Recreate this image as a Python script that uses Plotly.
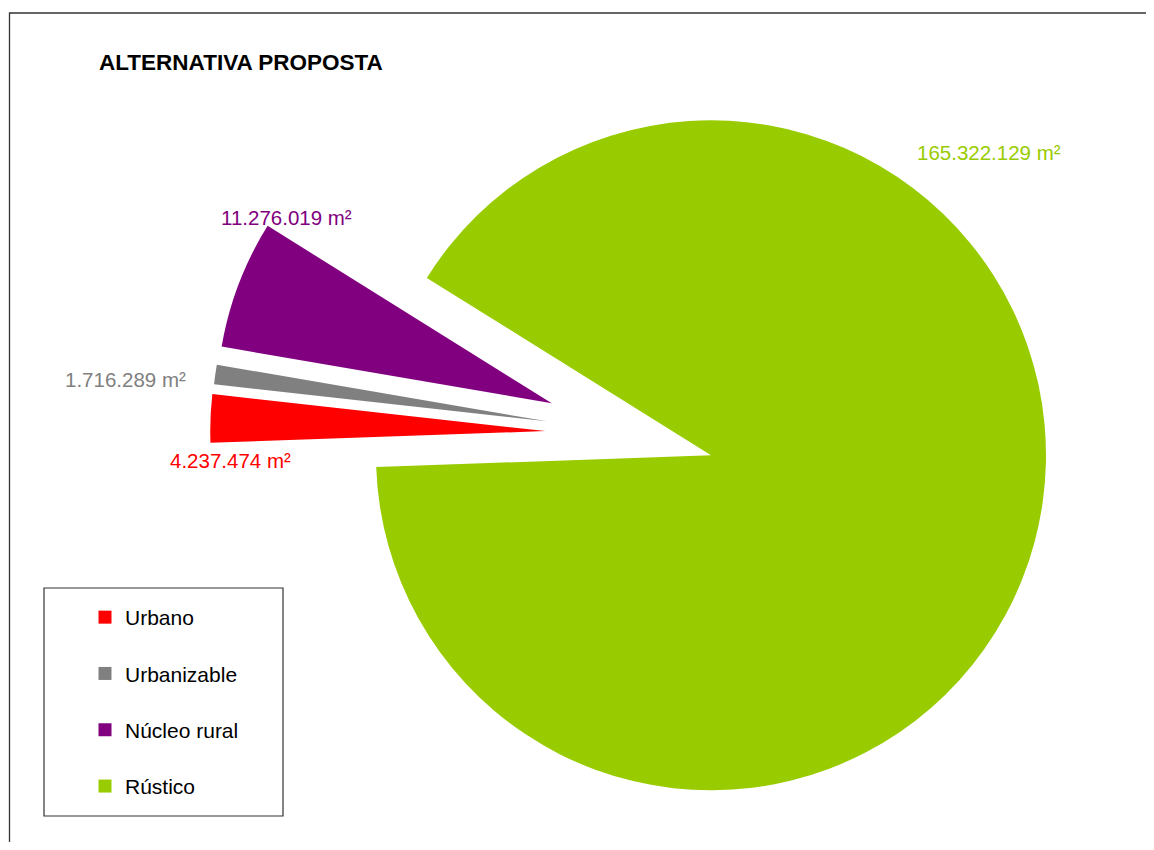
import math
import plotly.graph_objects as go

# data
labels = ["Urbano", "Urbanizable", "Núcleo rural", "Rústico"]
values = [4237474, 1716289, 11276019, 165322129]
colors = ["#FF0000", "#808080", "#800080", "#99CC00"]

# layout, in page pixels (the page body keeps its 8px margin)
W, H, PAD = 1138, 834, 8
CX, CY, R = 711, 455.3, 335        # centre and radius of the whole pie
ROTATION = 268                     # Urbano starts just below 9 o'clock
PULL = 0.5                         # explode distance, fraction of radius
PULL_DIR = [8.3, 11.7, 18.1, 0]    # explode direction, degrees above 9 o'clock
LABEL_POS = [(293, 461, "right"), (188, 379, "right"),
             (219, 217, "left"), (915, 152, "left")]
FONT = "Liberation Sans, Arial, sans-serif"


def px(x):
    return (x - PAD) / W


def py(y):
    return 1 - (y - PAD) / H


def fmt(v):
    return f"{v:,}".replace(",", ".") + " m²"


fig = go.Figure()

# one pie per slice, so every slice can be pulled out on its own
for i, lab in enumerate(labels):
    pull = PULL if i < 3 else 0
    a = math.radians(PULL_DIR[i])
    cx = CX - pull * R * math.cos(a)
    cy = CY - pull * R * math.sin(a)
    fig.add_trace(go.Pie(
        labels=labels, values=values, sort=False,
        direction="clockwise", rotation=ROTATION,
        marker=dict(colors=[c if j == i else "rgba(0,0,0,0)"
                            for j, c in enumerate(colors)]),
        textinfo="none", hoverinfo="label+value", showlegend=False,
        domain=dict(x=[px(cx - R), px(cx + R)], y=[py(cy + R), py(cy - R)]),
    ))

# legend entries
for lab, c in zip(labels, colors):
    fig.add_trace(go.Scatter(
        x=[None], y=[None], mode="markers", name=lab, legendgroup=lab,
        marker=dict(symbol="square", size=13, color=c),
    ))

for v, c, (x, y, anchor) in zip(values, colors, LABEL_POS):
    fig.add_annotation(
        text=fmt(v), x=px(x), y=py(y), xref="paper", yref="paper",
        xanchor=anchor, yanchor="middle", showarrow=False,
        font=dict(size=20.5, color=c, family=FONT),
    )

fig.update_layout(
    width=W, height=H,
    margin=dict(l=0, r=0, t=0, b=0),
    paper_bgcolor="white", plot_bgcolor="white",
    font=dict(family=FONT, color="black"),
    xaxis=dict(visible=False), yaxis=dict(visible=False),
    title=dict(text="<b>ALTERNATIVA PROPOSTA</b>", x=px(99), xanchor="left",
               y=py(62.5), yanchor="middle", font=dict(size=22.5, color="black")),
    legend=dict(x=px(85), y=py(597), xanchor="left", yanchor="top",
                tracegroupgap=26, font=dict(size=21, color="black"),
                bgcolor="rgba(0,0,0,0)"),
    shapes=[
        dict(type="rect", xref="paper", yref="paper",
             x0=px(9.5), y0=py(13), x1=px(1200), y1=py(900),
             line=dict(color="#333333", width=1.3)),
        dict(type="rect", xref="paper", yref="paper",
             x0=px(44), y0=py(588), x1=px(283), y1=py(816),
             line=dict(color="#333333", width=1.2)),
    ],
)

fig.write_html("out.html")
